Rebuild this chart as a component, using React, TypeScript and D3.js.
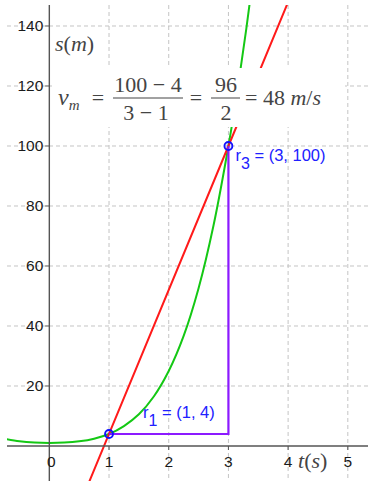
import React, { useEffect, useRef } from "react";
import * as d3 from "d3";

// position curve s(t) (green)
const curveT = [-0.72, -0.5, -0.25, 0, 0.25, 0.5, 0.75, 1, 1.25, 1.5, 1.75, 2, 2.25, 2.5, 2.75, 3, 3.15, 3.3, 3.45];
const curveS = [2.3, 1.56, 1.13, 1, 1.13, 1.56, 2.44, 4, 6.64, 10.56, 16.5, 25, 36.7, 52.6, 73.5, 100, 118.4, 139.1, 162.3];

// secant through r1 and r3 (red)
const secantT = [0.55, 1, 3, 4.2];
const secantS = [-17.6, 4, 100, 157.6];

// rise / run guide (purple)
const guideT = [1, 3, 3];
const guideS = [4, 4, 100];

const points = [
  { t: 1, s: 4, sub: "1", text: " = (1, 4)", dx: 34, dy: -16 },
  { t: 3, s: 100, sub: "3", text: " = (3, 100)", dx: 7, dy: 15 },
];

const xTicks = [0, 1, 2, 3, 4, 5];
const yTicks = [20, 40, 60, 80, 100, 120, 140];

const W = 368, H = 481;

const App = () => {
  const svgRef = useRef<SVGSVGElement>(null);

  useEffect(() => {
    const svg = d3.select(svgRef.current);
    svg.selectAll("*").remove();

    const left = 7, top = 5;
    const x = d3.scaleLinear().domain([-0.709, 5.338]).range([left, W]);
    const y = d3.scaleLinear().domain([-11.67, 147]).range([H, top]);

    svg.append("rect").attr("width", W).attr("height", H).attr("fill", "white");

    svg.append("defs").append("clipPath").attr("id", "plot")
      .append("rect").attr("x", left).attr("y", top).attr("width", W - left).attr("height", H - top);

    const g = svg.append("g").attr("clip-path", "url(#plot)");

    // grille
    g.selectAll(".vg").data(xTicks.filter(d => d !== 0)).enter().append("line")
      .attr("x1", d => x(d)).attr("x2", d => x(d))
      .attr("y1", top).attr("y2", H)
      .attr("stroke", "#c4c4c4").attr("stroke-width", 1).attr("stroke-dasharray", "4,3");
    g.selectAll(".hg").data(yTicks).enter().append("line")
      .attr("x1", left).attr("x2", W)
      .attr("y1", d => y(d)).attr("y2", d => y(d))
      .attr("stroke", "#c4c4c4").attr("stroke-width", 1).attr("stroke-dasharray", "4,3");

    const line = d3.line<[number, number]>()
      .x(d => x(d[0])).y(d => y(d[1]));

    // courbe verte
    g.append("path")
      .datum(curveT.map((t, i) => [t, curveS[i]] as [number, number]))
      .attr("d", line.curve(d3.curveCatmullRom))
      .attr("fill", "none").attr("stroke", "#14c814").attr("stroke-width", 2);

    // sécante rouge
    g.append("path")
      .datum(secantT.map((t, i) => [t, secantS[i]] as [number, number]))
      .attr("d", line.curve(d3.curveLinear))
      .attr("fill", "none").attr("stroke", "#ff1a1a").attr("stroke-width", 2);

    // guide violet
    g.append("path")
      .datum(guideT.map((t, i) => [t, guideS[i]] as [number, number]))
      .attr("d", line.curve(d3.curveLinear))
      .attr("fill", "none").attr("stroke", "#8c1aff").attr("stroke-width", 2.2);

    // fond blanc de la formule
    svg.append("rect")
      .attr("x", 52).attr("y", 68).attr("width", 293).attr("height", 59)
      .attr("fill", "white");

    // axes
    svg.append("line")
      .attr("x1", x(0)).attr("x2", x(0)).attr("y1", top).attr("y2", H)
      .attr("stroke", "#555").attr("stroke-width", 1.4);
    svg.append("line")
      .attr("x1", left).attr("x2", W).attr("y1", y(0)).attr("y2", y(0))
      .attr("stroke", "#555").attr("stroke-width", 1.4);

    // graduations
    svg.selectAll(".yt").data(yTicks).enter().append("line")
      .attr("x1", x(0) - 4).attr("x2", x(0))
      .attr("y1", d => y(d)).attr("y2", d => y(d))
      .attr("stroke", "#555");
    svg.selectAll(".xt").data(xTicks.filter(d => d !== 0)).enter().append("line")
      .attr("x1", d => x(d)).attr("x2", d => x(d))
      .attr("y1", y(0)).attr("y2", y(0) + 4)
      .attr("stroke", "#555");

    const tickFont = "'Liberation Sans', Arial, sans-serif";
    svg.selectAll(".yl").data(yTicks).enter().append("text")
      .attr("x", x(0) - 6).attr("y", d => y(d) + 5.5)
      .attr("text-anchor", "end")
      .style("font-family", tickFont).style("font-size", "15.5px").attr("fill", "#1a1a1a")
      .text(d => d);
    svg.selectAll(".xl").data(xTicks).enter().append("text")
      .attr("x", d => x(d) + (d === 0 ? 2 : 0)).attr("y", y(0) + 21)
      .attr("text-anchor", "middle")
      .style("font-family", tickFont).style("font-size", "15.5px").attr("fill", "#1a1a1a")
      .text(d => d);

    // points et étiquettes
    svg.selectAll(".pt").data(points).enter().append("circle")
      .attr("cx", d => x(d.t)).attr("cy", d => y(d.s)).attr("r", 4)
      .attr("fill", "#0000ff").attr("fill-opacity", 0.1)
      .attr("stroke", "#1010ff").attr("stroke-width", 1.8);

    const lab = svg.selectAll(".pl").data(points).enter().append("text")
      .attr("x", d => x(d.t) + d.dx).attr("y", d => y(d.s) + d.dy)
      .style("font-family", tickFont).style("font-size", "16.5px").attr("fill", "#2020ff");
    lab.append("tspan").text("r");
    lab.append("tspan").attr("dy", 8).style("font-size", "16px").text(d => d.sub);
    lab.append("tspan").attr("dy", -8).text(d => d.text);

    // titres d'axes
    const serif = "'Liberation Serif', 'DejaVu Serif', serif";
    const sm = svg.append("text").attr("x", 55).attr("y", 51)
      .style("font-family", serif).style("font-size", "22px").attr("fill", "#444");
    sm.append("tspan").style("font-style", "italic").text("s");
    sm.append("tspan").text("(");
    sm.append("tspan").style("font-style", "italic").text("m");
    sm.append("tspan").text(")");

    const ts = svg.append("text").attr("x", 298).attr("y", 468)
      .style("font-family", serif).style("font-size", "22px").attr("fill", "#444");
    ts.append("tspan").style("font-style", "italic").text("t");
    ts.append("tspan").text("(");
    ts.append("tspan").style("font-style", "italic").text("s");
    ts.append("tspan").text(")");

    // formule de la vitesse moyenne
    const f = svg.append("g")
      .style("font-family", serif).style("font-size", "22px").attr("fill", "#444");
    const vm = f.append("text").attr("x", 58).attr("y", 105);
    vm.append("tspan").style("font-style", "italic").style("font-size", "24px").text("v");
    vm.append("tspan").attr("dy", 5).style("font-size", "15px").style("font-style", "italic").text("m");
    f.append("text").attr("x", 98).attr("y", 105).attr("text-anchor", "middle").text("=");
    f.append("text").attr("x", 148).attr("y", 92).attr("text-anchor", "middle").text("100 \u2212 4");
    f.append("line").attr("x1", 113).attr("x2", 183).attr("y1", 98).attr("y2", 98)
      .attr("stroke", "#444").attr("stroke-width", 1);
    f.append("text").attr("x", 146).attr("y", 120).attr("text-anchor", "middle").text("3 \u2212 1");
    f.append("text").attr("x", 196).attr("y", 105).attr("text-anchor", "middle").text("=");
    f.append("text").attr("x", 226).attr("y", 92).attr("text-anchor", "middle").text("96");
    f.append("line").attr("x1", 211).attr("x2", 240).attr("y1", 98).attr("y2", 98)
      .attr("stroke", "#444").attr("stroke-width", 1);
    f.append("text").attr("x", 226).attr("y", 120).attr("text-anchor", "middle").text("2");
    const r = f.append("text").attr("x", 245).attr("y", 105);
    r.append("tspan").text("= 48 ");
    r.append("tspan").style("font-style", "italic").text("m");
    r.append("tspan").text("/");
    r.append("tspan").style("font-style", "italic").text("s");
  }, []);

  return (
    <div style={{ position: "absolute", left: 0, top: 0 }}>
      <svg ref={svgRef} width={W} height={H} style={{ display: "block" }}></svg>
    </div>
  );
};

export default App;
